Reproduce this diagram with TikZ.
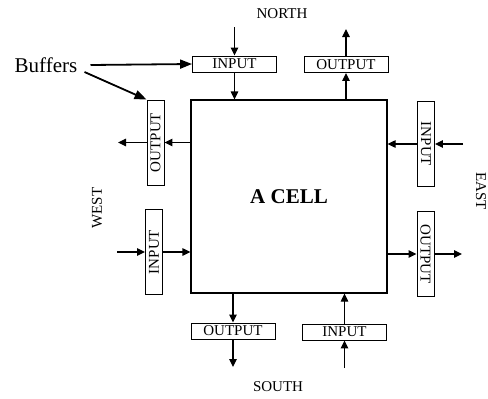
\documentclass[tikz,border=0pt]{standalone}
\usepackage{fontspec}
\setmainfont{Liberation Serif}
\usetikzlibrary{arrows.meta}
\tikzset{
  buf/.style={draw, line width=0.9pt, inner sep=0pt, font=\fontsize{15}{15}\selectfont},
  hbuf/.style={buf, minimum width=84pt, minimum height=16pt},
  vbuf/.style={buf, minimum width=17pt, minimum height=85pt},
  conn/.style={line width=1.2pt, -{Triangle[length=8pt,width=7.5pt]}},
  pointer/.style={line width=1.8pt, -{Triangle[length=12pt,width=9pt]}},
  lbl/.style={font=\fontsize{15}{15}\selectfont, inner sep=0pt},
}
\begin{document}
\begin{tikzpicture}[x=1pt,y=-1pt]
\useasboundingbox (0,0) rectangle (488,399);
% cell
\node[draw, line width=1.2pt, minimum width=196pt, minimum height=193pt, inner sep=0pt,
      font=\fontsize{21}{21}\selectfont\bfseries] (cell) at (289,196.5) {A CELL};
% buffers
\node[hbuf] (nin) at (234.5,64) {INPUT};
\node[hbuf] (nout) at (346,64.5) {OUTPUT};
\node[vbuf] (wout) at (155.5,142.5) {\rotatebox{90}{OUTPUT}};
\node[vbuf] (win) at (154,252) {\rotatebox{90}{INPUT}};
\node[vbuf] (ein) at (426,144) {\rotatebox{-90}{INPUT}};
\node[vbuf] (eout) at (425.5,254) {\rotatebox{-90}{OUTPUT}};
\node[hbuf] (sout) at (233,331) {OUTPUT};
\node[hbuf] (sin) at (344.5,332) {INPUT};
% labels
\node[lbl] (north) at (282,14) {NORTH};
\node[lbl] (south) at (278,387) {SOUTH};
\node[lbl, rotate=90] (west) at (97,208) {WEST};
\node[lbl, rotate=-90] (east) at (481,191) {EAST};
\node[font=\fontsize{21}{21}\selectfont, inner sep=0pt] (buffers) at (46,65) {Buffers};
% free ends
\coordinate (nin0) at (234.5,27);
\coordinate (nout1) at (346,29);
\coordinate (wout1) at (118,142.5);
\coordinate (win0) at (117,252);
\coordinate (ein0) at (463,144);
\coordinate (eout1) at (462,254);
\coordinate (sout1) at (233,367);
\coordinate (sin0) at (344.5,368);
% north
\draw[conn] (nin0) -- (nin.north);
\draw[conn] (nin.south) -- (nin.south |- cell.north);
\draw[conn] (nout.south |- cell.north) -- (nout.south);
\draw[conn] (nout.north) -- (nout1);
% west
\draw[conn] (cell.west |- wout.east) -- (wout.east);
\draw[conn] (wout.west) -- (wout1);
\draw[conn] (win0) -- (win.west);
\draw[conn] (win.east) -- (cell.west |- win.east);
% east
\draw[conn] (ein0) -- (ein.east);
\draw[conn] (ein.west) -- (cell.east |- ein.west);
\draw[conn] (cell.east |- eout.west) -- (eout.west);
\draw[conn] (eout.east) -- (eout1);
% south
\draw[conn] (sout.north |- cell.south) -- (sout.north);
\draw[conn] (sout.south) -- (sout1);
\draw[conn] (sin0) -- (sin.south);
\draw[conn] (sin.north) -- (sin.north |- cell.south);
% buffers pointers
\draw[pointer] ([xshift=13pt]buffers.east) -- (nin.west);
\draw[pointer] ([xshift=7pt,yshift=-7pt]buffers.east) -- (wout.north west);
\end{tikzpicture}
\end{document}
